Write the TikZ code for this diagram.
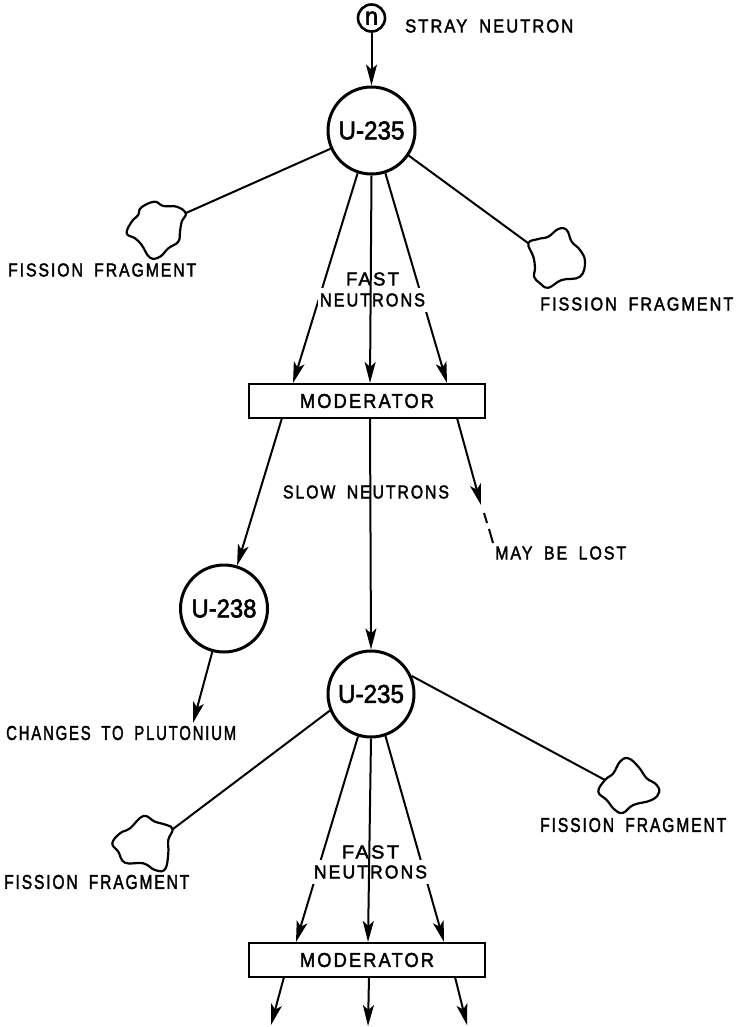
\documentclass[tikz,border=0pt]{standalone}
\usepackage{graphicx}
\usepackage{fontspec}
\setmainfont[FakeBold=2.2,LetterSpace=12,WordSpace=1.8]{Liberation Sans}
\newfontfamily\bigfont[FakeBold=2.2]{Liberation Sans}
\usetikzlibrary{arrows.meta}
\newcommand{\lbl}[3]{\resizebox{#1pt}{#2pt}{#3}}
\tikzset{
  x=1pt,y=-1pt,
  conn/.style={line width=2pt,black},
  arr/.style={conn,-{Stealth[length=21pt,width=11pt,inset=5pt]}},
  atom/.style={circle,draw,line width=3pt,fill=white,inner sep=0pt,minimum size=#1},
  modbox/.style={rectangle,draw,line width=2.6pt,fill=white,minimum width=236pt,minimum height=34pt,inner sep=0pt},
  lab/.style={inner sep=0pt,black},
  labw/.style={fill=white,inner xsep=2pt,inner ysep=5pt},
  blob/.style={draw,line width=2.2pt,fill=white,line join=round}
}
\begin{document}
\begin{tikzpicture}
\useasboundingbox (0,0) rectangle (737,1027);
% nodes
\node[atom=27pt,line width=2.6pt] (n) at (371.5,18) {\lbl{13}{13}{\bigfont n}};
\node[lab,anchor=west] (stray) at (405,26) {\lbl{168}{13}{STRAY NEUTRON}};
\node[atom=87pt] (u1) at (371.5,130.5) {\lbl{66}{18}{\bigfont U-235}};
\node[modbox] (m1) at (367,401) {\lbl{134}{14}{MODERATOR}};
\node[atom=87pt] (u8) at (224,608.5) {\lbl{65}{18}{\bigfont U-238}};
\node[atom=86pt] (u2) at (371,694) {\lbl{66}{18}{\bigfont U-235}};
\node[modbox] (m2) at (367,960) {\lbl{134}{14}{MODERATOR}};
% fragments
\draw[blob] plot[smooth cycle,tension=.7] coordinates {(185.7,213.3)(181.7,221.7)(180,231.7)(178.3,241.7)(168.3,248.3)(160,256.7)(150,257.7)(141.7,245)(135,238.3)(126.7,233.3)(131.7,221.7)(138.3,215)(141,207.7)(154.3,201.7)(163.3,206)(176.7,206.7)};
\draw[blob] plot[smooth cycle,tension=.7] coordinates {(528.3,243.3)(533.3,256.7)(535,268.3)(534,276.7)(540,283.3)(548.3,287.7)(561.7,280)(580,276.7)(585,261.7)(580,250)(571.7,241.7)(566.7,230)(558.3,229)(548.3,236.7)(538.3,239)};
\draw[blob] plot[smooth cycle,tension=.7] coordinates {(172.7,829.3)(168.3,840)(168.3,853.3)(165,869.3)(155,870)(143.3,863.3)(125,862.7)(118.3,851.7)(112.3,843.3)(120,833.3)(130,828.3)(143.3,816)(155,821.7)(166.7,825)};
\draw[blob] plot[smooth cycle,tension=.7] coordinates {(605,780)(598.3,791.7)(606.7,800)(615,810)(623.3,812.7)(633.3,805)(651.7,800)(659.3,791.7)(655,783.3)(646.7,778.3)(638.3,766.7)(628.3,758.3)(620,761.7)(613.3,773.3)};
\coordinate (f1) at (186,213);
\coordinate (f2) at (528,243);
\coordinate (f3) at (173,829);
\coordinate (f4) at (605,780);
% named ends
\coordinate (m1a) at (293,383);
\coordinate (m1c) at (370,383);
\coordinate (m1b) at (447,383);
\coordinate (m1d) at (282,418);
\coordinate (m1e) at (370,418);
\coordinate (m1f) at (457,418);
\coordinate (lost) at (481,505);
\coordinate (d1a) at (484,513);
\coordinate (d1b) at (487,523);
\coordinate (d2a) at (489,529);
\coordinate (d2b) at (493,543);
\coordinate (pu) at (193,723);
\coordinate (m2a) at (296,942);
\coordinate (m2c) at (368,942);
\coordinate (m2b) at (444,942);
\coordinate (m2d) at (284,977);
\coordinate (m2e) at (369,977);
\coordinate (m2f) at (455,977);
\coordinate (e1) at (271,1025);
\coordinate (e2) at (368,1026);
\coordinate (e3) at (467,1025);
% connectors
\draw[arr] (n) -- (u1);
\draw[conn] (u1.204.6) -- (f1);
\draw[conn] (u1.-34.5) -- (f2);
\draw[arr] (u1.252) -- (m1a);
\draw[arr] (u1.-72) -- (m1b);
\draw[arr] (m1d) -- (u8);
\draw[arr] (m1f) -- (lost);
\draw[conn] (d1a) -- (d1b);
\draw[conn] (d2a) -- (d2b);
\draw[arr] (u8) -- (pu);
\draw[conn] (u2.202) -- (f3);
\draw[conn] (u2.24) -- (f4);
\draw[arr] (u2.253) -- (m2a);
\draw[arr] (u2.-71) -- (m2b);
\draw[arr] (m2d) -- (e1);
\draw[arr] (m2e) -- (e2);
\draw[arr] (m2f) -- (e3);
% labels
\node[lab,anchor=west] (l1) at (8,270) {\lbl{188}{13}{FISSION FRAGMENT}};
\node[lab,anchor=west] (l2) at (540,304) {\lbl{193}{13}{FISSION FRAGMENT}};
\node[lab,anchor=west] (l3) at (4,882) {\lbl{185}{14}{FISSION FRAGMENT}};
\node[lab,anchor=west] (l4) at (540,825) {\lbl{186}{14}{FISSION FRAGMENT}};
\node[lab] (fa1) at (372.5,279) {\lbl{53}{13}{FAST}};
\node[lab,labw] (ne1) at (372.5,300) {\lbl{105}{13}{NEUTRONS}};
\node[lab] (fa2) at (370.5,852) {\lbl{57}{13}{FAST}};
\node[lab,labw] (ne2) at (370.5,872) {\lbl{113}{13}{NEUTRONS}};
\node[lab] (slow) at (366,492) {\lbl{166}{13}{SLOW NEUTRONS}};
\node[lab,anchor=west] (may) at (495,553) {\lbl{131}{13}{MAY BE LOST}};
\node[lab,anchor=west] (chg) at (6,733) {\lbl{230}{14}{CHANGES TO PLUTONIUM}};
% centre lines over the text
\draw[arr] (u1.south) -- (m1c);
\draw[arr] (m1e) -- (u2.north);
\draw[arr] (u2.south) -- (m2c);
\end{tikzpicture}
\end{document}
